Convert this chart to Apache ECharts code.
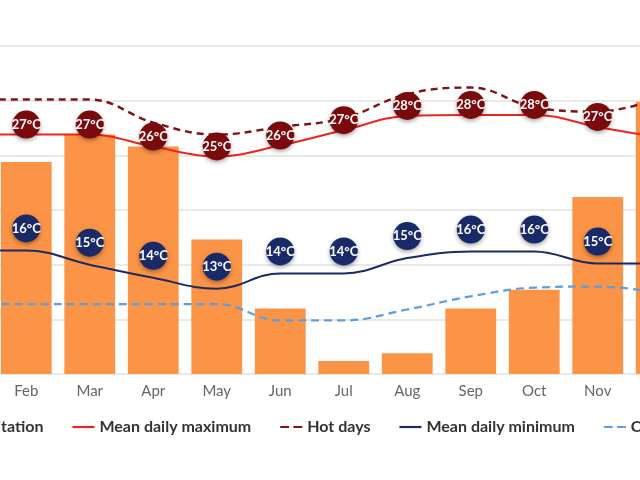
<!DOCTYPE html>
<html><head><meta charset="utf-8">
<script src="https://cdn.jsdelivr.net/npm/echarts@6/dist/echarts.min.js"></script>
<style>
html,body{margin:0;padding:0;width:640px;height:480px;overflow:hidden;background:#fff;}
#chart{position:absolute;left:-130px;top:0;width:900px;height:480px;}
</style></head><body><div id="chart"></div>
<script>
const months = ['Jan','Feb','Mar','Apr','May','Jun','Jul','Aug','Sep','Oct','Nov','Dec'];
const precipitation = [230, 194, 219, 208, 123, 60, 12, 19, 60, 77, 162, 249];
const meanMax = [26.9, 26.9, 26.9, 25.8, 24.9, 25.9, 27.3, 28.6, 28.7, 28.7, 27.6, 26.6];
const hotDays = [30.1, 30.1, 30.1, 28.0, 26.9, 27.6, 28.4, 30.6, 31.2, 29.4, 29.0, 30.3];
const meanMin = [16.3, 16.3, 15.0, 13.8, 12.8, 14.2, 14.2, 15.6, 16.2, 16.2, 15.1, 15.1];
const coldNights = [11.4, 11.4, 11.4, 11.4, 11.4, 9.9, 9.9, 10.9, 12.1, 12.9, 13.0, 12.4];
const maxLabels = [27, 27, 27, 26, 25, 26, 27, 28, 28, 28, 27, 27];
const minLabels = [16, 16, 15, 14, 13, 14, 14, 15, 16, 16, 15, 15];
const seriesNames = ['Precipitation','Mean daily maximum','Hot days','Mean daily minimum','Cold nights'];

const solidIcon = 'path://M0,0H20V2H0Z';
const dashIcon = 'path://M0,0H8V2H0Z M12,0H20V2H12Z';

const chart = echarts.init(document.getElementById('chart'), null, {renderer:'canvas'});
const markerShadow = {shadowBlur: 4, shadowColor: 'rgba(0,0,0,0.35)', shadowOffsetY: 2, opacity: 1};
chart.setOption({
  animation: false,
  textStyle: {fontFamily: 'Lato'},
  grid: {left: 61, right: 77, top: 46, bottom: 106},
  legend: {
    data: [
      {name: seriesNames[0], icon: 'rect'},
      {name: seriesNames[1], icon: solidIcon},
      {name: seriesNames[2], icon: dashIcon},
      {name: seriesNames[3], icon: solidIcon},
      {name: seriesNames[4], icon: dashIcon}
    ],
    left: 50, top: 414, itemWidth: 22, itemHeight: 3, itemGap: 29,
    selectedMode: false,
    textStyle: {fontFamily: 'Lato', fontWeight: 'bold', fontSize: 16, color: '#333'}
  },
  xAxis: {
    type: 'category', data: months, boundaryGap: true,
    axisLine: {show: false}, axisTick: {show: false},
    axisLabel: {color: '#666', fontSize: 15, fontFamily: 'Lato', margin: 10}
  },
  yAxis: [
    {type: 'value', min: 5, max: 35, interval: 5,
     axisLine: {show: false}, axisTick: {show: false}, axisLabel: {show: false},
     splitLine: {lineStyle: {color: '#e2e2e2', width: 1.5}}},
    {type: 'value', min: 0, max: 300, interval: 50, show: false,
     splitLine: {show: false}}
  ],
  series: [
    {name: seriesNames[0], type: 'bar', yAxisIndex: 1, data: precipitation,
     barCategoryGap: '20%', itemStyle: {color: '#fc9447'}, z: 1},
    {name: seriesNames[4], type: 'line', data: coldNights, smooth: 0.4, symbol: 'none',
     lineStyle: {color: '#5d9de2', width: 2.2, type: [8, 5]}, itemStyle: {color: '#5d9de2'}, z: 3},
    {name: seriesNames[3], type: 'line', data: meanMin, smooth: 0.4, symbol: 'none',
     lineStyle: {color: '#1b2a63', width: 2}, itemStyle: {color: '#1b2a63'}, z: 3},
    {name: seriesNames[2], type: 'line', data: hotDays, smooth: 0.4, symbol: 'none',
     lineStyle: {color: '#7f1416', width: 2.4, type: [7, 5]}, itemStyle: {color: '#7f1416'}, z: 3},
    {name: seriesNames[1], type: 'line', data: meanMax, smooth: 0.4, symbol: 'none',
     lineStyle: {color: '#f0241c', width: 2}, itemStyle: {color: '#f0241c'}, z: 4},
    {name: 'maxMarkers', type: 'scatter', data: meanMax, symbol: 'circle', symbolSize: 28,
     symbolOffset: [0, -10], z: 10,
     itemStyle: Object.assign({color: '#7a0a0c'}, markerShadow),
     label: {show: true, position: 'inside', color: '#fff', fontSize: 13, fontWeight: 'bold', fontFamily: 'Lato',
       formatter: p => maxLabels[p.dataIndex] + '°C'}},
    {name: 'minMarkers', type: 'scatter', data: meanMin, symbol: 'circle', symbolSize: 28,
     symbolOffset: [0, -22], z: 10,
     itemStyle: Object.assign({color: '#1a2a68'}, markerShadow),
     label: {show: true, position: 'inside', color: '#fff', fontSize: 13, fontWeight: 'bold', fontFamily: 'Lato',
       formatter: p => minLabels[p.dataIndex] + '°C'}}
  ]
});
</script></body></html>
